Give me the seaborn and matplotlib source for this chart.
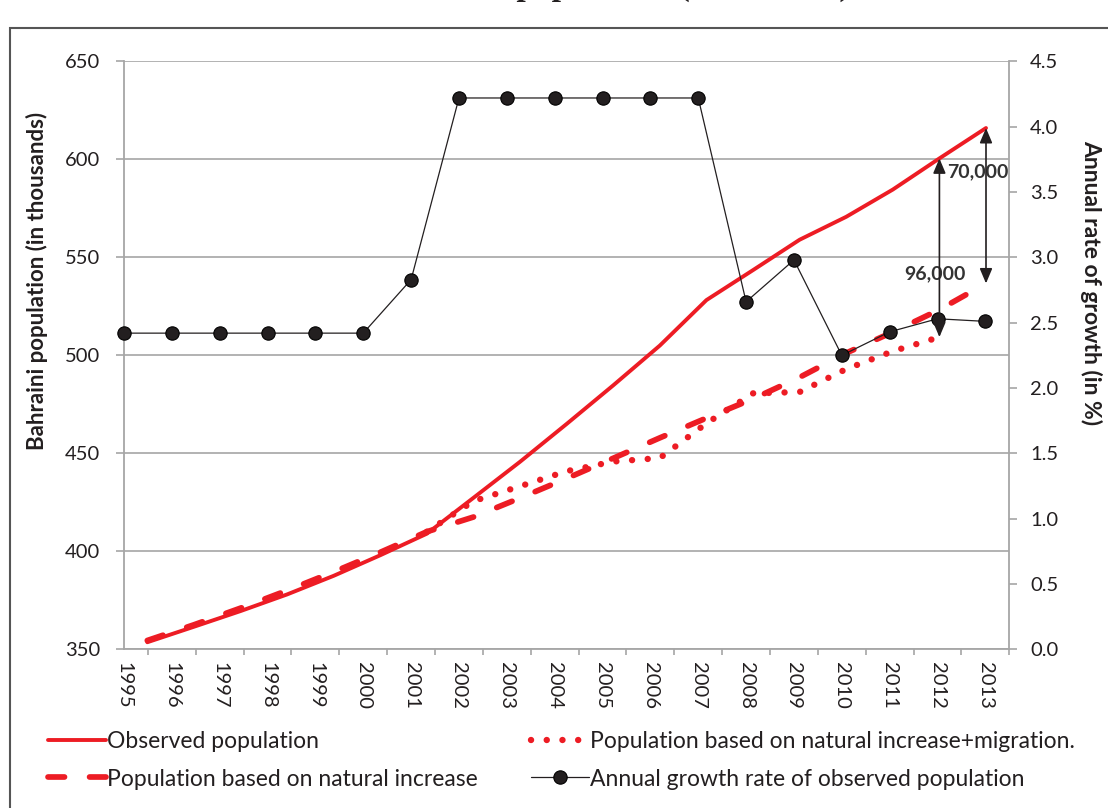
import matplotlib
matplotlib.use("Agg")
import numpy as np
import pandas as pd
import matplotlib.pyplot as plt
import seaborn as sns
from matplotlib.lines import Line2D
from matplotlib.patches import Rectangle
from matplotlib.ticker import FormatStrFormatter

# values
years = [1995, 1996, 1997, 1998, 1999, 2000, 2001, 2002, 2003, 2004,
         2005, 2006, 2007, 2008, 2009, 2010, 2011, 2012, 2013]
observed = [353.6, 361.5, 369.5, 378.0, 387.5, 398.0, 409.0, 427.3, 445.7, 465.0,
            484.7, 505.0, 528.2, 543.5, 559.0, 570.7, 584.6, 600.5, 616.0]
natural = [354.5, 362.5, 371.0, 380.0, 389.5, 399.5, 410.0, 417.5, 427.2, 437.2,
           447.5, 457.9, 468.0, 477.8, 488.8, 501.2, 511.9, 523.3, 536.7]
years_migration = [2001, 2002, 2003, 2004, 2005, 2006, 2007, 2008, 2009, 2010, 2011, 2012]
migration = [410.0, 425.6, 433.2, 440.9, 445.8, 447.6, 465.3, 480.6, 481.3, 493.0, 502.1, 509.3]
growth = [2.42, 2.42, 2.42, 2.42, 2.42, 2.42, 2.83, 4.22, 4.22, 4.22,
          4.22, 4.22, 4.22, 2.66, 2.98, 2.25, 2.43, 2.53, 2.51]
gap_labels = ["96,000", "70,000"]

sns.set_style("white")
plt.rcParams["font.family"] = ["Lato", "DejaVu Sans"]

RED = "#ED1C24"
GRID = "#A6A6A6"
INK = "#231F20"

pop = pd.DataFrame({"year": years, "observed": observed, "natural": natural})
mig = pd.DataFrame({"year": years_migration, "migration": migration})
gr = pd.DataFrame({"year": years, "growth": growth})

fig = plt.figure(figsize=(11.08, 8.08), dpi=100)
rect = [124 / 1108, 1 - 649.3 / 808, 885.3 / 1108, 587.9 / 808]
ax = fig.add_axes(rect)
ax_gr = fig.add_axes(rect, facecolor="none")

solid_kw = dict(color=RED, lw=2.8, solid_capstyle="round")
dash_kw = dict(color=RED, lw=4.1, linestyle=(0, (2.9, 4.4)), dash_capstyle="round")
dot_kw = dict(color=RED, lw=4.6, linestyle=(0, (0.01, 2.45)), dash_capstyle="round")
growth_kw = dict(color=INK, lw=0.9, marker="o", markersize=9.6,
                 markerfacecolor=INK, markeredgecolor="black", markeredgewidth=0.8)

sns.lineplot(data=pop, x="year", y="natural", ax=ax, errorbar=None, **dash_kw)
sns.lineplot(data=mig, x="year", y="migration", ax=ax, errorbar=None, **dot_kw)
sns.lineplot(data=pop, x="year", y="observed", ax=ax, errorbar=None, **solid_kw)

ax.set_xlim(1994.5, 2013.5)
ax.set_ylim(350, 650)
ax.set_yticks([350, 400, 450, 500, 550, 600, 650])
ax.grid(axis="y", color=GRID, lw=1.2)
ax.set_axisbelow(True)
ax.xaxis.set_visible(False)
for side in ["top", "right", "bottom"]:
    ax.spines[side].set_visible(False)
ax.spines["left"].set_color(GRID)
ax.spines["left"].set_linewidth(1.3)
ax.tick_params(axis="y", length=6, width=1.2, color=GRID, pad=11,
               labelsize=14.5, labelcolor=INK, left=True)
ax.set_xlabel("")
ax.set_ylabel("Bahraini population (in thousands)", fontsize=16,
              fontweight="bold", color=INK)
ax.yaxis.set_label_coords(-0.086, 0.626)

# growth rate on its own axes (right scale, category positions)
sns.lineplot(data=gr, x="year", y="growth", ax=ax_gr, errorbar=None,
             clip_on=False, zorder=3, **growth_kw)
ax_gr.set_xlim(1995, 2013.5)
ax_gr.set_ylim(0, 4.5)
ax_gr.yaxis.tick_right()
ax_gr.yaxis.set_label_position("right")
ax_gr.set_yticks([0, 0.5, 1.0, 1.5, 2.0, 2.5, 3.0, 3.5, 4.0, 4.5])
ax_gr.yaxis.set_major_formatter(FormatStrFormatter("%.1f"))
ax_gr.set_xticks(years)
ax_gr.set_xticklabels([str(y) for y in years], rotation=-90)
ax_gr.set_xticks([y + 0.5 for y in years], minor=True)
ax_gr.tick_params(axis="x", which="major", length=0, pad=9, labelsize=14.5, labelcolor=INK)
ax_gr.tick_params(axis="x", which="minor", length=4, width=1.2, color=GRID, bottom=True)
ax_gr.tick_params(axis="y", length=6, width=1.2, color=GRID, pad=9,
                  labelsize=14.5, labelcolor=INK, right=True)
for side in ["top", "left"]:
    ax_gr.spines[side].set_visible(False)
for side in ["bottom", "right"]:
    ax_gr.spines[side].set_color(GRID)
    ax_gr.spines[side].set_linewidth(1.3)
ax_gr.set_xlabel("")
ax_gr.set_ylabel("Annual rate of growth (in %)", fontsize=16.5, fontweight="bold",
                 color=INK, rotation=270, va="bottom", ha="center")
ax_gr.yaxis.set_label_coords(1.08, 0.624)

# gap arrows in 2012 and 2013
arrow = dict(arrowstyle="<|-|>,head_length=0.45,head_width=0.19", color=INK,
             lw=1.2, shrinkA=0, shrinkB=0, mutation_scale=20)
ax_gr.annotate("", xy=(years[-2], observed[-2]), xycoords=ax.transData,
               xytext=(years_migration[-1], migration[-1]), textcoords=ax.transData,
               arrowprops=arrow, zorder=4)
ax_gr.annotate("", xy=(years[-1], observed[-1]), xycoords=ax.transData,
               xytext=(years[-1], natural[-1]), textcoords=ax.transData,
               arrowprops=arrow, zorder=4)
ax_gr.text(2011.9, 541.5, gap_labels[0], transform=ax.transData, ha="center",
           va="center", fontsize=14, fontweight="bold", color="#333333", zorder=2)
ax_gr.text(2012.16, 593.7, gap_labels[1], transform=ax.transData, ha="left",
           va="center", fontsize=14, fontweight="bold", color="#333333", zorder=2)

# legend in two columns
leg_kw = dict(loc="upper left", frameon=False, fontsize=16.5, handlelength=2.53,
              handletextpad=0.06, labelspacing=0.72, borderpad=0, borderaxespad=0,
              labelcolor=INK)
h_obs = Line2D([], [], **solid_kw)
h_nat = Line2D([], [], **dash_kw)
h_mig = Line2D([], [], **dot_kw)
h_gr = Line2D([], [], **growth_kw)
fig.legend([h_obs, h_nat], ["Observed population", "Population based on natural increase"],
           bbox_to_anchor=(48 / 1108, 1 - 731 / 808), **leg_kw)
fig.legend([h_mig, h_gr], ["Population based on natural increase+migration.",
                           "Annual growth rate of observed population"],
           bbox_to_anchor=(531 / 1108, 1 - 731 / 808), **leg_kw)

# title cut by the top edge, as in the source, and outer frame
fig.text(382 / 1108, 1 + 5 / 808, "Bahraini population (1995\u20132013)",
         family=["Liberation Serif", "DejaVu Serif"], fontweight="bold",
         fontsize=24, ha="left", va="baseline", color=INK)
fig.add_artist(Rectangle((10 / 1108, -0.5), 2, 1.5 - 28 / 808,
                         transform=fig.transFigure, fill=False,
                         edgecolor="#555555", lw=1.5))

fig.savefig("out.png", dpi=100)
